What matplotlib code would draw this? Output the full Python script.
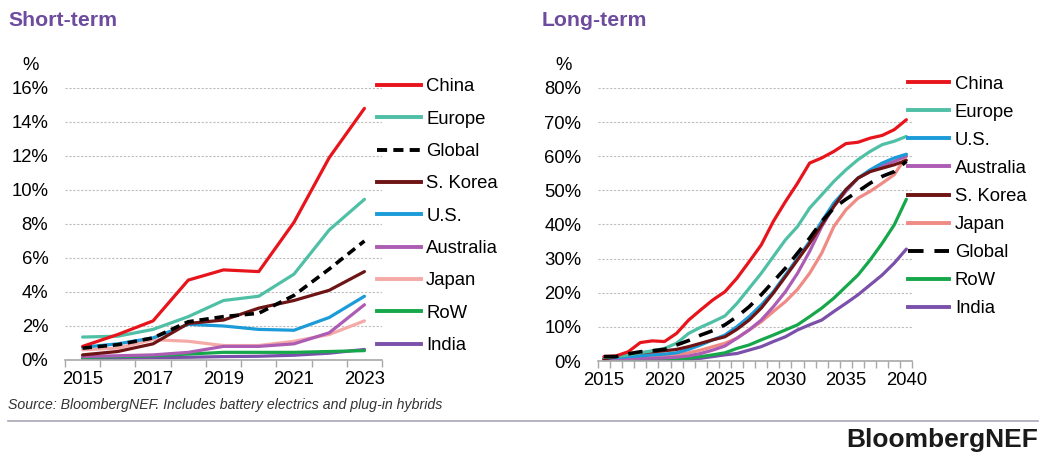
import matplotlib
matplotlib.use("Agg")
import matplotlib.pyplot as plt
from matplotlib.lines import Line2D

plt.rcParams["font.family"] = ["Liberation Sans", "DejaVu Sans"]

# Short-term EV share of new car sales, 2015-2023 (%)
years_short = list(range(2015, 2024))
st_china = [0.8, 1.5, 2.3, 4.7, 5.3, 5.2, 8.1, 11.9, 14.8]
st_europe = [1.35, 1.4, 1.8, 2.55, 3.5, 3.75, 5.05, 7.65, 9.45]
st_global = [0.7, 0.9, 1.3, 2.25, 2.55, 2.75, 3.8, 5.35, 7.0]
st_korea = [0.3, 0.5, 0.95, 2.15, 2.35, 3.05, 3.5, 4.1, 5.2]
st_us = [0.75, 0.95, 1.3, 2.1, 2.0, 1.8, 1.75, 2.5, 3.75]
st_australia = [0.2, 0.25, 0.3, 0.45, 0.8, 0.8, 0.95, 1.6, 3.25]
st_japan = [0.6, 0.7, 1.2, 1.1, 0.85, 0.85, 1.1, 1.5, 2.3]
st_row = [0.15, 0.2, 0.25, 0.35, 0.45, 0.45, 0.45, 0.5, 0.55]
st_india = [0.08, 0.1, 0.14, 0.16, 0.2, 0.22, 0.28, 0.4, 0.62]

# Long-term outlook, 2015-2040 (%)
years_long = list(range(2015, 2041))
lt_china = [1.3, 1.5, 2.7, 5.4, 5.9, 5.7, 8.1, 12.0, 15.0, 17.9, 20.3, 24.3, 29.1,
            34.0, 40.9, 46.7, 52.1, 58.0, 59.5, 61.4, 63.7, 64.1, 65.3, 66.1, 67.8, 70.7]
lt_europe = [1.1, 1.3, 1.8, 2.4, 3.0, 3.7, 5.2, 8.1, 9.9, 11.5, 13.2, 16.9, 21.3,
             25.7, 30.6, 35.5, 39.4, 44.8, 48.7, 52.6, 56.0, 59.0, 61.4, 63.4, 64.4, 65.8]
lt_us = [0.8, 1.0, 1.3, 1.5, 1.8, 2.0, 2.4, 3.4, 4.7, 6.2, 7.6, 10.1, 13.0,
         16.4, 20.3, 25.2, 30.1, 35.0, 40.9, 46.3, 50.2, 53.6, 56.0, 58.0, 59.5, 60.6]
lt_australia = [0.6, 0.7, 0.8, 0.8, 0.8, 0.9, 1.1, 1.5, 2.2, 3.2, 4.4, 6.7, 9.1,
                12.0, 15.9, 20.3, 25.7, 32.1, 39.4, 45.3, 49.7, 53.6, 55.5, 57.2, 58.5, 60.1]
lt_korea = [0.6, 1.3, 2.1, 2.4, 2.7, 3.0, 3.4, 4.2, 5.2, 6.2, 7.1, 9.3, 12.0,
            15.5, 19.9, 24.7, 29.6, 34.5, 39.9, 45.3, 50.2, 53.6, 55.5, 56.5, 57.5, 58.8]
lt_japan = [0.5, 0.6, 0.8, 1.0, 1.3, 1.5, 1.8, 2.4, 3.2, 4.2, 5.2, 6.7, 9.1,
            11.5, 14.5, 17.4, 21.0, 25.7, 31.6, 39.4, 44.3, 47.7, 49.7, 52.1, 54.6, 60.0]
lt_global = [1.3, 1.3, 2.1, 2.7, 3.0, 3.4, 4.7, 6.0, 7.6, 8.9, 10.6, 13.0, 15.9,
             19.4, 23.3, 27.2, 31.6, 36.0, 40.9, 44.8, 47.4, 49.7, 52.1, 54.1, 55.5, 58.5]
lt_row = [0.5, 0.5, 0.5, 0.6, 0.6, 0.7, 0.7, 0.8, 1.3, 1.8, 2.4, 3.7, 4.7,
          6.2, 7.6, 9.1, 10.6, 13.0, 15.5, 18.4, 21.8, 25.2, 29.6, 34.5, 39.9, 47.4]
lt_india = [0.3, 0.3, 0.3, 0.3, 0.4, 0.4, 0.5, 0.6, 0.8, 1.3, 1.8, 2.2, 3.2,
            4.2, 5.7, 7.1, 9.1, 10.6, 12.0, 14.5, 16.9, 19.4, 22.3, 25.2, 28.7, 32.8]

RED = "#e8141c"
TEAL = "#4fc0a6"
DARKRED = "#6e1414"
BLUE = "#1b9bd8"
MAGENTA = "#ad5cb4"
PINK_ST = "#f5aaa8"
PINK_LT = "#f08a84"
GREEN = "#17a74b"
PURPLE = "#7a50aa"
TITLE_COL = "#6d4c9f"

short_series = [
    ("China", st_china, RED, None),
    ("Europe", st_europe, TEAL, None),
    ("Global", st_global, "black", (2.6, 1.6)),
    ("S. Korea", st_korea, DARKRED, None),
    ("U.S.", st_us, BLUE, None),
    ("Australia", st_australia, MAGENTA, None),
    ("Japan", st_japan, PINK_ST, None),
    ("RoW", st_row, GREEN, None),
    ("India", st_india, PURPLE, None),
]

long_series = [
    ("China", lt_china, RED, None),
    ("Europe", lt_europe, TEAL, None),
    ("U.S.", lt_us, BLUE, None),
    ("Australia", lt_australia, MAGENTA, None),
    ("S. Korea", lt_korea, DARKRED, None),
    ("Japan", lt_japan, PINK_LT, None),
    ("Global", lt_global, "black", (4.0, 2.8)),
    ("RoW", lt_row, GREEN, None),
    ("India", lt_india, PURPLE, None),
]

# draw order: global dashed line on top of the rest
draw_order = ["India", "RoW", "Japan", "Australia", "U.S.", "S. Korea", "Europe", "China", "Global"]

TICK_FS = 13.3


def style_axis(ax, years, ymax, ystep, label_years):
    n = len(years)
    ax.set_xlim(-0.5, n - 0.5)
    ax.set_ylim(0, ymax)
    ax.set_yticks(range(0, ymax + 1, ystep))
    ax.set_yticklabels([f"{v}%" for v in range(0, ymax + 1, ystep)], fontsize=TICK_FS)
    ax.tick_params(axis="y", length=0, pad=12)
    pos = [years.index(y) for y in label_years]
    ax.set_xticks(pos)
    ax.set_xticklabels([str(y) for y in label_years], fontsize=TICK_FS)
    ax.set_xticks([i - 0.5 for i in range(n + 1)], minor=True)
    ax.tick_params(axis="x", which="major", length=0, pad=8)
    ax.tick_params(axis="x", which="minor", length=5, width=1, color="#a8a8a8")
    for s in ["left", "right", "top"]:
        ax.spines[s].set_visible(False)
    ax.spines["bottom"].set_color("#a8a8a8")
    ax.spines["bottom"].set_linewidth(1.2)
    ax.yaxis.grid(True, color="#bdbdbd", linestyle=(0, (2, 1.5)), linewidth=0.8)
    ax.set_axisbelow(True)
    ax.text(-0.135, 1.05, "%", transform=ax.transAxes, fontsize=TICK_FS, ha="left", va="bottom")


def draw_panel(ax, years, series, legend_top, legend_spacing, handle_len):
    x = list(range(len(years)))
    lookup = {name: (vals, col, dash) for name, vals, col, dash in series}
    for name in draw_order:
        vals, col, dash = lookup[name]
        kw = dict(color=col, linewidth=2.3, solid_capstyle="round")
        if dash is not None:
            kw["dashes"] = dash
            kw["linewidth"] = 2.6
        ax.plot(x, vals, **kw)
    handles = []
    for name, vals, col, dash in series:
        if dash is not None:
            handles.append(Line2D([], [], color=col, linewidth=2.8, dashes=dash))
        else:
            handles.append(Line2D([], [], color=col, linewidth=2.8))
    ax.legend(handles, [s[0] for s in series], loc="upper left",
              bbox_to_anchor=(0.985, legend_top), frameon=False, fontsize=TICK_FS,
              handlelength=handle_len, handletextpad=0.3, borderpad=0,
              borderaxespad=0, labelspacing=legend_spacing)


fig = plt.figure(figsize=(10.43, 4.59), dpi=100)

ax1 = fig.add_axes([0.0623, 0.2157, 0.304, 0.5926])
style_axis(ax1, years_short, 16, 2, [2015, 2017, 2019, 2021, 2023])
draw_panel(ax1, years_short, short_series, 1.035, 0.83, 2.35)

ax2 = fig.add_axes([0.5733, 0.2135, 0.3015, 0.5948])
style_axis(ax2, years_long, 80, 10, [2015, 2020, 2025, 2030, 2035, 2040])
draw_panel(ax2, years_long, long_series, 1.045, 0.60, 2.25)

fig.text(0.008, 0.935, "Short-term", fontsize=15.3, fontweight="bold", color=TITLE_COL, va="bottom")
fig.text(0.519, 0.935, "Long-term", fontsize=15.3, fontweight="bold", color=TITLE_COL, va="bottom")

fig.text(0.008, 0.117, "Source: BloombergNEF. Includes battery electrics and plug-in hybrids",
         fontsize=10.2, style="italic", color="#333333", va="center")
fig.add_artist(Line2D([0.008, 0.995], [0.082, 0.082], transform=fig.transFigure,
                      color="#a9a7b3", linewidth=1.2))
fig.text(0.995, 0.042, "BloombergNEF", fontsize=19, fontweight="bold", color="#1a1a1a",
         ha="right", va="center")

fig.savefig("out.png", dpi=100)
